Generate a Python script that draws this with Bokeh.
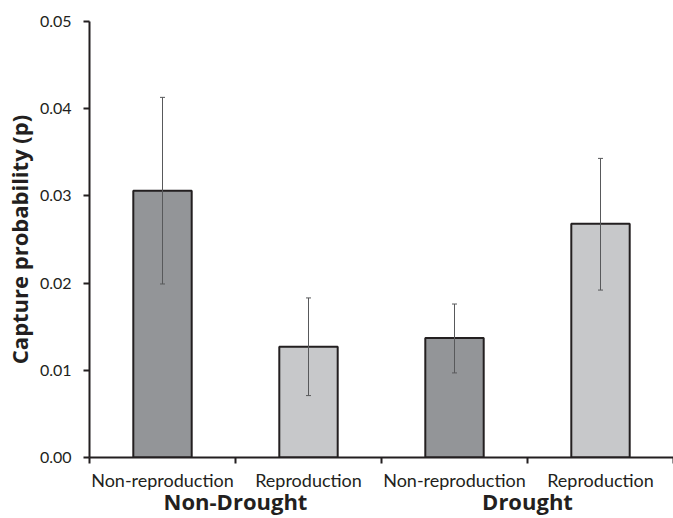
from bokeh.plotting import figure
from bokeh.models import (ColumnDataSource, Range1d, LinearAxis, FixedTicker, PrintfTickFormatter,
                          Whisker, TeeHead)
from bokeh.embed import file_html
from bokeh.resources import INLINE

groups = ["Non-Drought", "Non-Drought", "Drought", "Drought"]
subs = ["Non-reproduction", "Reproduction", "Non-reproduction", "Reproduction"]
values = [0.0306, 0.0127, 0.0137, 0.0268]
upper = [0.0413, 0.0183, 0.0176, 0.0343]
lower = [0.0199, 0.0071, 0.0097, 0.0192]
colors = ["#939598", "#c7c8ca", "#939598", "#c7c8ca"]
y_ticks = [0.0, 0.01, 0.02, 0.03, 0.04, 0.05]

FONT = "Lato"
BFONT = "Open Sans"
TXT = "#231f20"

n = len(values)
xpos = [i + 0.5 for i in range(n)]
group_names = list(dict.fromkeys(groups))
group_pos = [sum(x for x, g in zip(xpos, groups) if g == gn) / groups.count(gn) for gn in group_names]

src = ColumnDataSource(dict(x=xpos, top=values, upper=upper, lower=lower, color=colors))

p = figure(width=673, height=518, output_backend="svg", toolbar_location=None,
           x_range=Range1d(0, n), y_range=Range1d(0, 0.05), x_axis_type=None, y_axis_type=None,
           min_border_left=88, min_border_right=0, min_border_top=21, min_border_bottom=0)
p.outline_line_color = None
p.xgrid.visible = False
p.ygrid.visible = False

# y axis
yax = LinearAxis(ticker=FixedTicker(ticks=y_ticks), formatter=PrintfTickFormatter(format="%.2f"),
                 axis_label="Capture probability (p)")
yax.minor_tick_line_color = None
yax.major_tick_in = 0
yax.axis_line_width = 2
yax.axis_line_color = TXT
yax.major_tick_out = 6
yax.major_tick_line_width = 2
yax.major_tick_line_color = TXT
yax.major_label_standoff = 12
yax.major_label_text_font = FONT
yax.major_label_text_font_size = "16px"
yax.major_label_text_color = TXT
yax.axis_label_text_font = BFONT
yax.axis_label_text_font_style = "bold"
yax.axis_label_text_font_size = "22px"
yax.axis_label_text_color = TXT
yax.axis_label_standoff = 3
p.add_layout(yax, "left")

# x boundary tick axis
tax = LinearAxis(ticker=FixedTicker(ticks=list(range(n + 1))),
                 major_label_overrides={i: "" for i in range(n + 1)})
tax.minor_tick_line_color = None
tax.major_tick_in = 0
tax.axis_line_width = 2
tax.axis_line_color = TXT
tax.major_tick_out = 6
tax.major_tick_line_width = 2
tax.major_tick_line_color = TXT
tax.major_label_text_font_size = "1px"
tax.major_label_standoff = 0
p.add_layout(tax, "below")

# sub-category labels
sax = LinearAxis(ticker=FixedTicker(ticks=xpos),
                 major_label_overrides={x: s for x, s in zip(xpos, subs)})
sax.minor_tick_line_color = None
sax.major_tick_in = 0
sax.axis_line_color = None
sax.major_tick_line_color = None
sax.major_tick_out = 0
sax.major_label_standoff = 5
sax.major_label_text_font = FONT
sax.major_label_text_font_size = "18px"
sax.major_label_text_color = TXT
p.add_layout(sax, "below")

# group labels
gax = LinearAxis(ticker=FixedTicker(ticks=group_pos),
                 major_label_overrides={x: g for x, g in zip(group_pos, group_names)})
gax.minor_tick_line_color = None
gax.major_tick_in = 0
gax.axis_line_color = None
gax.major_tick_line_color = None
gax.major_tick_out = 0
gax.major_label_standoff = -8
gax.major_label_text_font = BFONT
gax.major_label_text_font_size = "22px"
gax.major_label_text_font_style = "bold"
gax.major_label_text_color = TXT
p.add_layout(gax, "below")

p.vbar(x="x", top="top", width=0.4, bottom=0, source=src, fill_color="color",
       line_color=TXT, line_width=2)

w = Whisker(source=src, base="x", upper="upper", lower="lower", line_color="#58595b", line_width=1,
            upper_head=TeeHead(size=5, line_color="#58595b", line_width=1),
            lower_head=TeeHead(size=5, line_color="#58595b", line_width=1))
w.level = "overlay"
p.add_layout(w)

open("out.html", "w").write(file_html(p, INLINE))
